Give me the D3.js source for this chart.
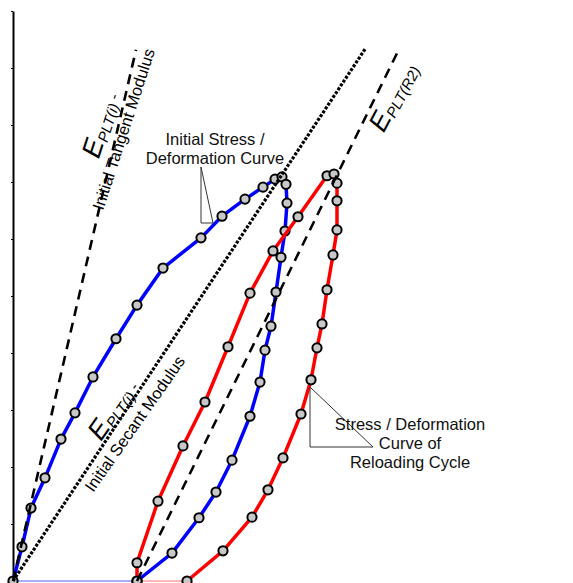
<!DOCTYPE html>
<html><head><meta charset="utf-8">
<script src="https://cdn.jsdelivr.net/npm/d3@7"></script>
<style>
html,body{margin:0;padding:0;background:#fff;}
svg{display:block;font-family:"Liberation Sans",Arial,sans-serif;}
</style></head>
<body><svg id="chart" width="573" height="583"></svg>
<script>
// Initial stress / deformation curve (loading then unloading)
const blueX = [0,0.9,1.8,3.2,4.8,6.2,8.0,10.3,12.4,15.0,18.8,20.9,23.2,25.0,26.2,26.9,27.3,27.4,27.2,26.8,26.3,25.8,25.2,24.7,23.7,21.9,20.3,18.6,15.9,12.4];
const blueY = [0,0.60,1.28,1.81,2.49,2.95,3.58,4.25,4.84,5.49,6.02,6.40,6.70,6.91,7.05,7.09,6.96,6.63,6.14,5.68,5.07,4.47,4.05,3.49,2.89,2.12,1.56,1.11,0.49,0];
// Reloading cycle curve
const redX = [12.4,12.4,14.5,17.0,19.2,21.5,23.7,26.0,28.5,31.4,32.1,32.4,32.4,32.4,32.0,31.4,30.9,30.4,29.8,28.8,27.0,25.5,23.9,21.0,17.4];
const redY = [0,0.32,1.40,2.37,3.14,4.11,5.05,5.79,6.39,7.11,7.14,6.98,6.67,6.16,5.72,5.11,4.51,4.09,3.53,2.93,2.16,1.60,1.12,0.53,0];
// Modulus lines
const tangentX = [0,12.3], tangentY = [0,9.32];
const secantX = [0,35.2], secantY = [0,9.33];
const r2X = [12.4,38.6], r2Y = [0,9.33];
// Baseline segments
const baseBlueX = [0,12.4], baseRedX = [12.4,17.4];
const yTicks = [0,1,2,3,4,5,6,7,8,9,10];

const svg = d3.select("#chart");
const x = d3.scaleLinear().domain([0,56]).range([13,573]);
const y = d3.scaleLinear().domain([0,10]).range([581,11]);
const zip = (xs, ys) => xs.map((v,i)=>[v, ys[i]]);
const line = d3.line().x(d=>x(d[0])).y(d=>y(d[1]));

// baseline segments
svg.append("path").attr("d", line(zip(baseBlueX,[0,0]))).attr("stroke","#aab0ff").attr("stroke-width",2).attr("fill","none");
svg.append("path").attr("d", line(zip(baseRedX,[0,0]))).attr("stroke","#ffb8b8").attr("stroke-width",2).attr("fill","none");

// axis
const ax = svg.append("g").attr("transform",`translate(${x(0)},0)`)
  .call(d3.axisLeft(y).tickValues(yTicks).tickSize(2).tickSizeOuter(0).tickFormat(""));
ax.select(".domain").attr("stroke","#000").attr("stroke-width",2);
ax.selectAll(".tick line").attr("stroke","#000").attr("stroke-width",1);

function curve(xs, ys, color){
  const pts = zip(xs, ys);
  svg.append("path").attr("d", line(pts)).attr("stroke", color).attr("stroke-width",3.5)
    .attr("fill","none").attr("stroke-linejoin","round");
  svg.append("g").selectAll("circle").data(pts).join("circle")
    .attr("cx", d=>x(d[0])).attr("cy", d=>y(d[1])).attr("r",4.6)
    .attr("fill","#c8c8c8").attr("stroke","#000").attr("stroke-width",2);
}
curve(blueX, blueY, "#0000ff");
curve(redX, redY, "#ff0000");

// modulus lines
svg.append("path").attr("d", line(zip(tangentX,tangentY))).attr("stroke","#000").attr("stroke-width",2.6)
  .attr("stroke-dasharray","10,7").attr("fill","none");
svg.append("path").attr("d", line(zip(secantX,secantY))).attr("stroke","#000").attr("stroke-width",3.2)
  .attr("stroke-dasharray","3,1.6").attr("fill","none");
svg.append("path").attr("d", line(zip(r2X,r2Y))).attr("stroke","#000").attr("stroke-width",2.6)
  .attr("stroke-dasharray","10,7").attr("fill","none");

// rotated modulus labels
function modLabel(px, py, ang, sub, second, l1dx, l1dy){
  const g = svg.append("g").attr("transform",`translate(${px},${py}) rotate(${ang})`);
  const t = g.append("text").attr("x",l1dx).attr("y",l1dy).attr("text-anchor","middle").attr("fill","#000");
  t.append("tspan").attr("font-size",27).attr("font-style","italic").text("E");
  t.append("tspan").attr("font-size",15).attr("font-style","italic").attr("dy",3).text(sub);
  if(second){
    t.append("tspan").attr("font-size",15).attr("dy",-3).text(" -");
    g.append("text").attr("x",0).attr("y",0).attr("text-anchor","middle").attr("font-size",16.5).attr("fill","#000").text(second);
  }
}
modLabel(129,131,-72,"PLT(i)","Initial Tangent Modulus",-3,-20);
modLabel(139.5,427,-55,"PLT(i)","Initial Secant Modulus",-1,-23);
modLabel(401,101,-62,"PLT(R2)",null,0,0);

// callouts
svg.append("path").attr("d","M201,167L201,223L213,223Z").attr("fill","none").attr("stroke","#333").attr("stroke-width",1);
svg.append("path").attr("d","M310,387L310,447L373,447Z").attr("fill","none").attr("stroke","#333").attr("stroke-width",1);

function block(cx, by, lines){
  const t = svg.append("text").attr("text-anchor","middle").attr("font-size",16.5).attr("fill","#111");
  lines.forEach((s,i)=>t.append("tspan").attr("x",cx).attr("y",by+i*19).text(s));
}
block(215,145,["Initial Stress /","Deformation Curve"]);
block(410,430,["Stress / Deformation","Curve of","Reloading Cycle"]);
</script></body></html>
